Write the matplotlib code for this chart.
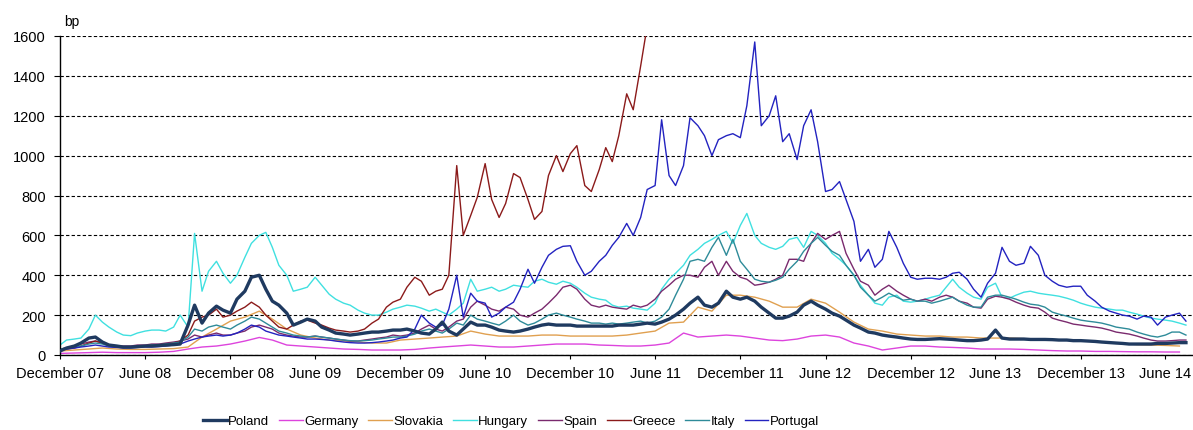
import matplotlib
matplotlib.use("Agg")
import matplotlib.pyplot as plt
import pandas as pd
from datetime import datetime

plt.rcParams["font.family"] = ["Liberation Sans", "DejaVu Sans"]

# Sampling grids: 1st and 15th of each month, and monthly
half_month = pd.date_range("2007-12-01", periods=160, freq="SMS")
month = pd.date_range("2007-12-01", periods=80, freq="MS")

# 5Y CDS spreads, basis points
poland = [
    20, 35, 45, 60, 85, 90, 65, 50, 45, 40, 40, 42,
    45, 45, 48, 50, 52, 55, 150, 250, 160, 210, 245, 225,
    210, 280, 320, 390, 400, 330, 270, 250, 210, 150, 165, 180,
    170, 140, 125, 110, 105, 100, 105, 110, 115, 115, 120, 125,
    125, 130, 120, 110, 105, 130, 165, 120, 100, 130, 165, 150,
    150, 140, 125, 120, 115, 120, 130, 140, 150, 155, 150, 150,
    150, 145, 145, 145, 145, 145, 145, 150, 150, 150, 155, 160,
    155, 165, 180, 200, 230, 260, 290, 250, 240, 260, 320, 290,
    280, 290, 270, 240, 210, 185, 185, 195, 215, 250, 270, 250,
    230, 210, 195, 175, 150, 135, 115, 110, 100, 95, 90, 85,
    80, 78, 78, 80, 82, 80, 78, 75, 72, 72, 75, 80,
    125, 85, 80, 80, 80, 78, 78, 78, 77, 75, 75, 72,
    72, 70, 68, 65, 62, 60, 58, 55, 55, 55, 55, 58,
    58, 60, 62, 62,
]

germany = [
    8, 10, 12, 14, 12, 12, 12, 14, 18, 30, 40, 45,
    55, 70, 88, 75, 50, 45, 40, 35, 30, 28, 25, 25,
    25, 28, 35, 40, 45, 50, 45, 40, 40, 45, 50, 55,
    55, 55, 50, 48, 45, 45, 50, 60, 110, 90, 95, 100,
    95, 85, 75, 72, 80, 95, 100, 90, 60, 45, 25, 35,
    45, 45, 40, 38, 35, 30, 30, 30, 28, 25, 22, 20,
    20, 18, 18, 17, 16, 16, 15, 15,
]

slovakia = [
    20, 25, 30, 35, 30, 28, 28, 30, 32, 40, 90, 130,
    170, 190, 220, 180, 130, 100, 85, 75, 70, 65, 60, 60,
    75, 80, 85, 90, 95, 120, 105, 95, 95, 95, 100, 100,
    95, 95, 95, 95, 100, 110, 120, 160, 165, 240, 220, 300,
    300, 290, 270, 240, 240, 280, 260, 215, 165, 130, 120, 105,
    100, 95, 95, 90, 90, 85, 85, 85, 82, 80, 78, 75,
    70, 68, 62, 58, 52, 50, 48, 45,
]

hungary = [
    50, 75, 80, 85, 130, 200, 165, 140, 115, 100, 97, 110,
    120, 125, 125, 120, 140, 200, 140, 610, 320, 420, 470, 410,
    360, 400, 490, 560, 600, 615, 540, 450, 400, 320, 330, 340,
    390, 350, 305, 280, 260, 250, 225, 210, 200, 200, 215, 230,
    240, 250, 245, 235, 220, 230, 215, 200, 230, 260, 380, 320,
    330, 340, 320, 330, 350, 345, 340, 370, 380, 365, 355, 370,
    360, 340, 310, 290, 280, 275, 250, 240, 245, 235, 230, 225,
    260, 330, 380, 410, 450, 500, 530, 560, 580, 600, 620, 560,
    650, 710, 600, 560, 540, 530, 545, 580, 590, 540, 620, 600,
    560, 510, 480, 450, 400, 350, 300, 260, 250, 290, 300, 270,
    265, 270, 280, 290, 300, 340, 380, 340, 310, 290, 280, 340,
    360, 290, 285, 300, 315, 320, 310, 305, 300, 295, 285, 275,
    260, 250, 240, 235, 230, 225, 225, 215, 205, 195, 185, 180,
    175, 170, 160, 150,
]

spain = [
    30, 35, 45, 55, 65, 70, 60, 50, 45, 45, 45, 50,
    50, 55, 55, 60, 65, 70, 80, 100, 90, 100, 110, 100,
    100, 110, 120, 140, 150, 140, 130, 110, 100, 95, 90, 90,
    95, 90, 85, 80, 75, 70, 70, 75, 80, 85, 90, 100,
    95, 100, 110, 130, 150, 130, 120, 140, 170, 180, 240, 270,
    250, 230, 220, 240, 230, 200, 190, 210, 230, 260, 300, 340,
    350, 330, 280, 250, 240, 250, 240, 235, 230, 250, 240, 250,
    280, 320, 350, 380, 400, 400, 390, 440, 470, 400, 470, 420,
    390, 380, 350, 355, 365, 380, 400, 480, 480, 470, 560, 610,
    580, 600, 620, 510, 430, 370, 350, 300, 330, 350, 320, 300,
    280, 270, 280, 270, 290, 300, 290, 270, 260, 240, 235, 280,
    295, 290, 280, 265, 250, 240, 235, 215, 185, 175, 165, 155,
    150, 145, 140, 135, 125, 115, 110, 105, 95, 85, 75, 70,
    70, 72, 75, 75,
]

greece = [
    25, 30, 35, 45, 60, 70, 60, 50, 45, 40, 40, 45,
    45, 50, 50, 55, 60, 70, 100, 170, 190, 200, 230, 190,
    200, 220, 240, 265, 240, 200, 170, 140, 130, 150, 170, 175,
    160, 150, 135, 125, 120, 115, 120, 130, 160, 180, 240, 265,
    280, 340, 390, 370, 300, 320, 330, 400, 950, 600, 700, 790,
    960, 780, 690, 760, 910, 890, 780, 680, 720, 900, 1000, 920,
    1010, 1050, 850, 820, 930, 1040, 970, 1100, 1310, 1230, 1450, 1650,
]

italy = [
    30, 35, 40, 45, 55, 60, 55, 45, 40, 38, 40, 45,
    45, 50, 50, 55, 60, 65, 90, 130, 120, 140, 150, 140,
    130, 150, 170, 190, 180, 160, 140, 120, 110, 100, 95, 90,
    95, 90, 85, 80, 75, 72, 70, 72, 75, 80, 85, 90,
    90, 95, 105, 120, 130, 120, 110, 130, 160, 150, 200, 180,
    170, 160, 150, 170, 200, 170, 150, 160, 180, 200, 210, 200,
    190, 180, 170, 160, 160, 155, 160, 155, 160, 165, 170, 160,
    170, 190, 230, 300, 380, 470, 480, 470, 540, 590, 500, 580,
    470, 430, 380, 370, 365, 375, 390, 430, 470, 520, 560, 590,
    550, 520, 500, 450, 400, 340, 300, 270, 290, 310, 290, 275,
    280, 270, 270, 260, 270, 280, 290, 270, 250, 240, 240, 290,
    300, 300, 290, 280, 265, 255, 250, 240, 215, 205, 195, 185,
    175, 170, 165, 160, 150, 140, 135, 130, 115, 105, 95, 90,
    100, 115, 115, 100,
]

portugal = [
    25, 30, 35, 40, 45, 50, 45, 40, 38, 35, 35, 38,
    40, 40, 42, 45, 50, 55, 70, 80, 90, 95, 100, 95,
    100, 110, 130, 150, 140, 120, 110, 100, 95, 90, 85, 80,
    80, 78, 75, 70, 65, 62, 60, 60, 62, 65, 70, 75,
    85, 90, 130, 200, 160, 140, 150, 230, 400, 190, 310, 270,
    260, 190, 210, 240, 265, 330, 430, 360, 440, 500, 530, 545,
    548, 470, 400, 420, 470, 500, 550, 590, 660, 600, 690, 830,
    850, 1180, 900, 850, 950, 1190, 1150, 1100, 1000, 1080, 1100, 1110,
    1090, 1250, 1570, 1150, 1200, 1300, 1070, 1110, 980, 1150, 1230, 1070,
    820, 830, 870, 780, 670, 470, 530, 440, 480, 620, 540, 460,
    390, 380, 385, 385, 380, 390, 410, 415, 380, 330, 290, 360,
    410, 540, 470, 450, 460, 545, 500, 400, 370, 350, 340, 345,
    345, 300, 270, 240, 220, 210, 200, 195, 180, 195, 190, 150,
    190, 200, 210, 170,
]

series = [
    ("Poland", half_month, poland, "#1F3A60", 2.4, 4),
    ("Germany", month, germany, "#DD44DD", 1.0, 2),
    ("Slovakia", month, slovakia, "#E0A050", 1.0, 2),
    ("Hungary", half_month, hungary, "#40E0E0", 1.0, 2),
    ("Spain", half_month, spain, "#7A2A6E", 1.0, 2),
    ("Greece", half_month[:len(greece)], greece, "#8B1A1A", 1.0, 2),
    ("Italy", half_month, italy, "#2E8B99", 1.0, 2),
    ("Portugal", half_month, portugal, "#2323C0", 1.0, 3),
]

tick_dates = pd.date_range("2007-12-01", "2014-06-01", freq="6MS")
tick_labels = [("December " if d.month == 12 else "June ") + d.strftime("%y")
               for d in tick_dates]

fig = plt.figure(figsize=(11.93, 4.31), dpi=100)
ax = fig.add_axes([60 / 1193, 1 - 356 / 431, 1132 / 1193, 319 / 431])

handles = []
for name, dates, values, color, lw, z in series:
    (line,) = ax.plot(dates, values, color=color, lw=lw, zorder=z, label=name)
    handles.append(line)

ax.set_xlim(datetime(2007, 12, 1), datetime(2014, 7, 28))
ax.set_ylim(0, 1600)
ax.set_yticks(range(0, 1601, 200))
ax.set_xticks(tick_dates)
ax.set_xticklabels(tick_labels)

ax.yaxis.grid(True, color="black", lw=0.8, ls=(0, (3, 2)))
ax.set_axisbelow(True)
for side in ("top", "right"):
    ax.spines[side].set_visible(False)
for side in ("left", "bottom"):
    ax.spines[side].set_color("black")
    ax.spines[side].set_linewidth(1.0)

ax.tick_params(axis="y", labelsize=10.5, length=4, pad=6, colors="black")
ax.tick_params(axis="x", labelsize=10.5, length=3, pad=5, colors="black")

fig.text(64 / 1193, 1 - 22 / 431, "bp", fontsize=10, va="center", ha="left")

legend = fig.legend(handles=handles, loc="center",
                    bbox_to_anchor=(511 / 1193, 1 - 422 / 431),
                    ncol=8, frameon=False, handlelength=1.8, handletextpad=0.1,
                    columnspacing=0.75, fontsize=9.5)
for lh in legend.get_lines():
    if lh.get_label() != "Poland":
        lh.set_linewidth(1.0)

fig.savefig("out.png", dpi=100)
